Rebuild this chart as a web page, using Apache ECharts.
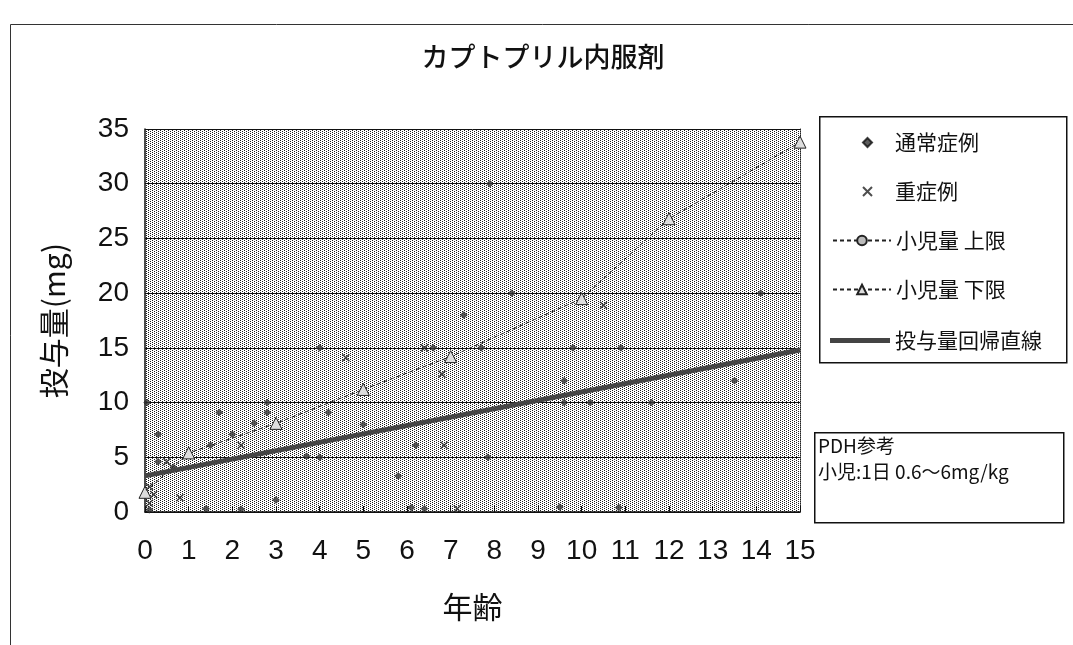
<!DOCTYPE html>
<html><head><meta charset="utf-8">
<script src="https://cdn.jsdelivr.net/npm/echarts@6/dist/echarts.min.js"></script>
<style>html,body{margin:0;padding:0;background:#fff}#c{width:1073px;height:645px}</style>
</head><body><div id="c"></div>
<script>
// ---- data ----
const xTicks = [0,1,2,3,4,5,6,7,8,9,10,11,12,13,14,15];
const normalAges  = [0.05,0.3,1.7,1.5,2.0,2.5,2.8,2.8,4.0,4.2,3.7,4.0,5.0,7.3,6.6,7.7,7.9,8.4,14.1,9.8,10.9,9.6,13.5,9.6,10.2,11.6,6.2,5.8,7.85,0.3,0.65,1.4,2.2,3.0,6.1,6.4,9.5,10.85,0.1];
const normalDoses = [10,7.1,9.1,6.1,7.1,8.1,10,9.1,15,9.1,5.1,5.0,8,18,15,15,30,20,20,15,15,12,12,10,10,10,6.1,3.3,5.0,4.6,4.1,0.3,0.25,1.1,0.4,0.3,0.45,0.4,0.2];
const severeAges  = [0.8,2.2,4.6,6.4,6.8,6.85,10.5,7.15,0.5,0.1,0.2,0.1];
const severeDoses = [1.3,6.1,14.1,15,12.6,6.1,18.9,0.3,4.6,2.3,1.6,0.8];
const limitAges   = [0,1,3,5,7,10,12,15];
const upperLimit  = [null,54,81,111,141,195,268,336];
const lowerLimit  = [1.8,5.4,8.1,11.2,14.2,19.5,26.8,33.8];
const regressionAges  = [0,15];
const regressionDoses = [3.3,14.8];

const pair = (xs, ys) => xs.map((x,i) => [x, ys[i]]);

// dotted background pattern (quincunx dots)
const tile = document.createElement('canvas');
tile.width = 4; tile.height = 2;
const tc = tile.getContext('2d');
tc.fillStyle = '#ffffff'; tc.fillRect(0,0,4,2);
tc.fillStyle = '#1a1a1a';
tc.fillRect(0,0,1,1); tc.fillRect(2,1,1,1);

const FONT_NUM = "'Liberation Sans Narrow','Liberation Sans',Arial,sans-serif";
const FONT_JP = "'Noto Sans CJK JP',sans-serif";
const XPATH = 'path://M0,0L10,10M10,0L0,10';
const legendText = {fontFamily:FONT_JP, fontSize:21, color:'#111'};

const chart = echarts.init(document.getElementById('c'), null, {renderer:'canvas'});
chart.setOption({
  animation:false,
  backgroundColor:'#fff',
  title:{text:'カプトプリル内服剤', left:538, textAlign:'center', top:38,
    textStyle:{fontFamily:FONT_JP, fontSize:27, fontWeight:500, color:'#111'}},
  grid:{left:145, right:273, top:129, bottom:133, show:true,
    backgroundColor:{image:tile, repeat:'repeat'}, borderWidth:0},
  xAxis:{type:'value', min:0, max:15, interval:1,
    name:'年齢', nameLocation:'middle', nameGap:80,
    nameTextStyle:{fontFamily:FONT_JP, fontSize:30, color:'#111'},
    axisLine:{show:true, lineStyle:{color:'#111', width:1.5}},
    axisTick:{show:true, inside:true, length:6, lineStyle:{color:'#111'}},
    splitLine:{show:false},
    axisLabel:{fontFamily:FONT_NUM, fontSize:28, color:'#111', margin:25}},
  yAxis:[{type:'value', min:0, max:35, interval:5,
    name:'投与量(mg)', nameLocation:'middle', nameGap:76, nameRotate:90,
    nameTextStyle:{fontFamily:FONT_JP, fontSize:30, color:'#111'},
    axisLine:{show:true, lineStyle:{color:'#111', width:1.5}},
    axisTick:{show:false},
    splitLine:{show:true, lineStyle:{color:'#111', width:1}},
    axisLabel:{fontFamily:FONT_NUM, fontSize:28, color:'#111', margin:16}},
   {type:'value', min:0, max:35, interval:5, position:'right',
    axisLine:{show:true, lineStyle:{color:'#222', width:1, type:'dotted'}},
    axisTick:{show:false}, axisLabel:{show:false}, splitLine:{show:false}}],
  legend:[
    {orient:'vertical', left:857, top:127, itemGap:28, itemWidth:9, itemHeight:9,
     textStyle:Object.assign({padding:[0,0,0,18]}, legendText),
     data:['通常症例', {name:'重症例', icon:XPATH}]},
    {orient:'vertical', left:827, top:225, itemGap:28, itemWidth:58, itemHeight:12,
     textStyle:legendText,
     data:['小児量 上限','小児量 下限']},
    {orient:'vertical', left:825, top:325, itemWidth:60, itemHeight:5, icon:'rect',
     textStyle:legendText,
     data:['投与量回帰直線']}
  ],
  series:[
    {name:'通常症例', type:'scatter', symbol:'diamond', symbolSize:7,
     itemStyle:{color:'#333', borderColor:'#111', borderWidth:0.5},
     data:pair(normalAges, normalDoses), z:5},
    {name:'重症例', type:'scatter', symbol:XPATH, symbolSize:7,
     itemStyle:{color:'#333', borderColor:'#222', borderWidth:1.5},
     data:pair(severeAges, severeDoses), z:5},
    {name:'小児量 上限', type:'line', symbol:'circle', symbolSize:10, clip:true,
     lineStyle:{color:'#222', width:1, type:[4,3]},
     itemStyle:{color:'#bbb', borderColor:'#222', borderWidth:1},
     data:pair(limitAges, upperLimit), z:4},
    {name:'小児量 下限', type:'line', symbol:'triangle', symbolSize:12, clip:true,
     lineStyle:{color:'#222', width:1, type:[4,3]},
     itemStyle:{color:'#ddd', borderColor:'#222', borderWidth:1},
     data:pair(limitAges, lowerLimit), z:4},
    {name:'投与量回帰直線', type:'line', symbol:'none',
     lineStyle:{color:'#444', width:5},
     itemStyle:{color:'#444'},
     data:pair(regressionAges, regressionDoses), z:6}
  ],
  graphic:[
    {type:'rect', left:8, top:22, shape:{width:1100, height:700}, silent:true, z:-1,
     style:{fill:null, stroke:'#333', lineWidth:1}},
    {type:'rect', left:819, top:116, shape:{width:247, height:246},
     style:{fill:'#fff', stroke:'#111', lineWidth:1.5}, z:-1},
    {type:'rect', left:814, top:432, shape:{width:249, height:90},
     style:{fill:'#fff', stroke:'#111', lineWidth:1.5}},
    {type:'text', left:818, top:433,
     style:{text:'PDH参考\n小児:1日 0.6～6mg/kg', fontFamily:FONT_JP, fontSize:19, lineHeight:26, fill:'#111'}}
  ]
});
</script></body></html>
